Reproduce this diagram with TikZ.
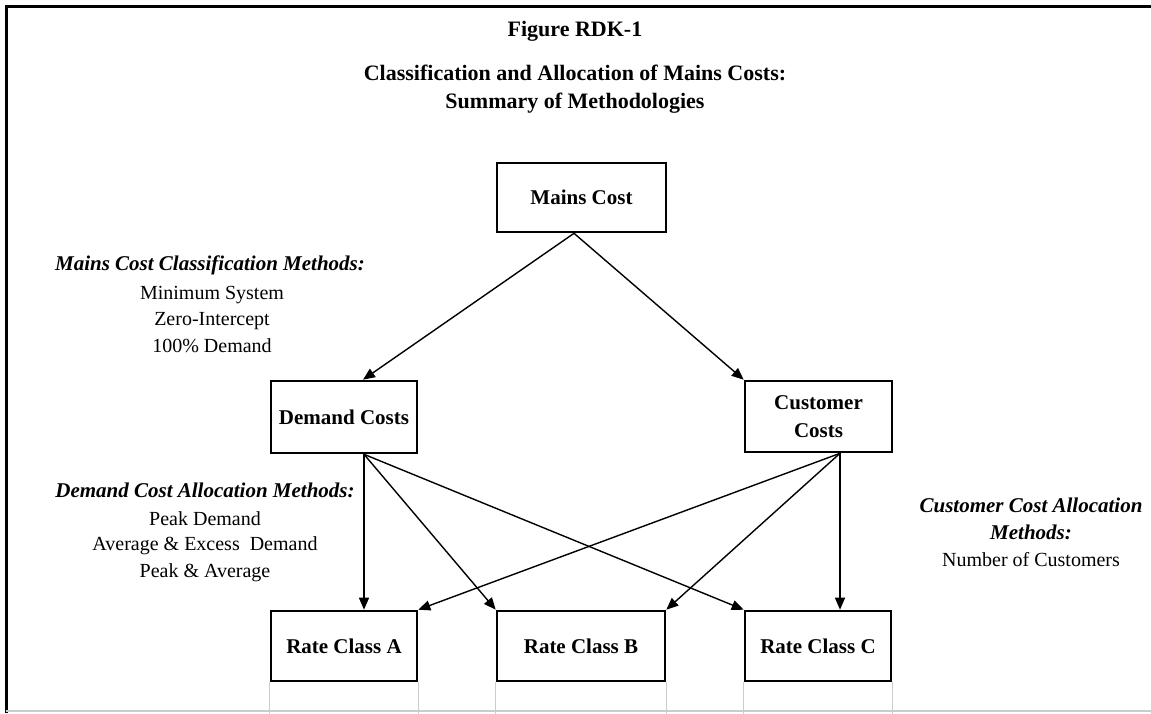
\documentclass[tikz,border=0pt]{standalone}
\usepackage{fontspec}
\setmainfont{Liberation Serif}
\usetikzlibrary{arrows.meta,calc}
\tikzset{
  costbox/.style={draw, line width=2.6pt, inner sep=0pt, align=center, font=\fontsize{21}{28}\selectfont\bfseries},
  conn/.style={line width=1.4pt, -{Triangle[length=12pt,width=10pt]}},
  heading/.style={inner sep=0pt, font=\fontsize{22}{27}\selectfont\bfseries},
  methhead/.style={inner sep=0pt, font=\fontsize{21}{27}\selectfont\bfseries\itshape},
  methline/.style={inner sep=0pt, font=\fontsize{20}{26}\selectfont},
  gridline/.style={draw=black!20, line width=1.2pt}
}
\begin{document}
\begin{tikzpicture}[x=1pt,y=-1pt]
\useasboundingbox (0,0) rectangle (1151,713);
% frame
\draw[line width=3pt] (6,713) -- (6,6) -- (1151,6);
\draw[gridline] (6,711) -- (1151,711);

% titles
\node[heading] (t1) at (575,31) {Figure RDK-1};
\node[heading] (t2) at (575,73) {Classification and Allocation of Mains Costs:};
\node[heading] (t3) at (575,103) {Summary of Methodologies};

% boxes
\node[costbox, minimum width=169pt, minimum height=69pt] (mains) at (581.5,197.5) {Mains Cost};
\node[costbox, minimum width=146pt, minimum height=72pt] (dem) at (344,417) {Demand Costs};
\node[costbox, minimum width=147pt, minimum height=71pt] (cust) at (818.5,416.5) {Customer\\Costs};
\node[costbox, minimum width=146pt, minimum height=70pt] (ra) at (344,646) {Rate Class A};
\node[costbox, minimum width=168pt, minimum height=70pt] (rb) at (581,646) {Rate Class B};
\node[costbox, minimum width=146pt, minimum height=70pt] (rc) at (818,646) {Rate Class C};

% gray grid lines below the rate boxes
\foreach \b in {ra,rb,rc}{
  \draw[gridline] (\b.south west) -- ++(0,32);
  \draw[gridline] (\b.south east) -- ++(0,32);
}

% connectors
\draw[conn] ([xshift=-7.5pt]mains.south) -- ([xshift=19pt]dem.north);
\draw[conn] ([xshift=-7.5pt]mains.south) -- (cust.north west);

\draw[conn] ([xshift=20pt]dem.south) -- ([xshift=20pt]ra.north);
\draw[conn] ([xshift=20pt]dem.south) -- (rb.north west);
\draw[conn] ([xshift=20pt]dem.south) -- (rc.north west);

\draw[conn] ([xshift=21.5pt]cust.south) -- (ra.north east);
\draw[conn] ([xshift=21.5pt]cust.south) -- (rb.north east);
\draw[conn] ([xshift=21.5pt]cust.south) -- ([xshift=22pt]rc.north);

% method annotations
\node[methhead] (mh) at (210,265) {Mains Cost Classification Methods:};
\node[methline] (m1) at (212,295) {Minimum System};
\node[methline] (m2) at (212,321) {Zero-Intercept};
\node[methline] (m3) at (212,346) {100\% Demand};

\node[methhead] (dh) at (205,490) {Demand Cost Allocation Methods:};
\node[methline] (d1) at (205,519) {Peak Demand};
\node[methline] (d2) at (205,546) {Average \& Excess\ \ Demand};
\node[methline] (d3) at (205,573) {Peak \& Average};

\node[methhead] (ch1) at (1031,505) {Customer Cost Allocation};
\node[methhead] (ch2) at (1031,532) {Methods:};
\node[methline] (c1) at (1031,560) {Number of Customers};
\end{tikzpicture}
\end{document}
